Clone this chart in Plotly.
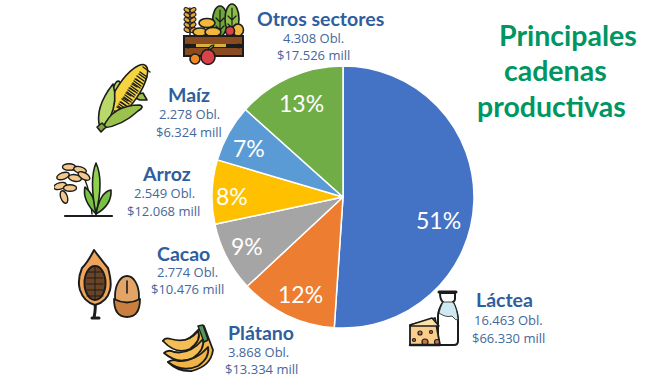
import base64
import plotly.graph_objects as go

W, H = 666, 385

# ---- data ----
sectors = ["Láctea", "Plátano", "Cacao", "Arroz", "Maíz", "Otros sectores"]
obligations = [16463, 3868, 2774, 2549, 2278, 4308]
obligation_labels = ["16.463 Obl.", "3.868 Obl.", "2.774 Obl.", "2.549 Obl.", "2.278 Obl.", "4.308 Obl."]
amount_labels = ["$66.330 mill", "$13.334 mill", "$10.476 mill", "$12.068 mill", "$6.324 mill", "$17.526 mill"]
title_lines = ["Principales", "cadenas", "productivas"]
slice_colors = ["#4472C4", "#ED7D31", "#A5A5A5", "#FFC000", "#5B9BD5", "#70AD47"]

# ---- layout helpers (pixels of the 666x385 frame) ----
def px(x):
    return x / W

def py(y):
    return 1 - y / H

CX, CY, R = 343, 197, 131

fig = go.Figure(go.Pie(
    labels=sectors,
    values=obligations,
    sort=False,
    direction="clockwise",
    rotation=0,
    marker=dict(colors=slice_colors, line=dict(color="white", width=1.5)),
    textinfo="none",
    domain=dict(x=[px(CX - R), px(CX + R)], y=[py(CY + R), py(CY - R)]),
    hoverinfo="label+value+percent",
    showlegend=False,
))

HEAD = "#2F5E9E"
SUB = "#44689C"
label_places = {
    "Láctea": ((505, 299), (508, 320), (508, 338)),
    "Plátano": ((261, 332), (258, 352), (261, 369)),
    "Cacao": ((183, 253), (187, 272), (187, 289)),
    "Arroz": ((166, 174), (164, 193), (163, 211)),
    "Maíz": ((189, 95), (189, 114), (189, 132)),
    "Otros sectores": ((320, 18), (313, 38), (313, 55)),
}
percent_places = {
    "Láctea": (438, 220),
    "Plátano": (300, 294),
    "Cacao": (247, 246),
    "Arroz": (232, 196),
    "Maíz": (249, 148),
    "Otros sectores": (301, 103),
}
annotations = []

def add_text(text, x, y, size, color, family, bold=False):
    annotations.append(dict(
        text=f"<b>{text}</b>" if bold else text,
        x=px(x), y=py(y), xref="paper", yref="paper",
        xanchor="center", yanchor="middle", showarrow=False,
        font=dict(family=family, size=size, color=color),
    ))

total = sum(obligations)
for name, val, obl, amt in zip(sectors, obligations, obligation_labels, amount_labels):
    a, b, c = label_places[name]
    add_text(name, a[0], a[1], 19.5, HEAD, "Lato, sans-serif", True)
    add_text(obl, b[0], b[1], 13, SUB, "Open Sans, sans-serif")
    add_text(amt, c[0], c[1], 13, SUB, "Open Sans, sans-serif")
    pp = percent_places[name]
    add_text(f"{round(100 * val / total)}%", pp[0], pp[1], 23, "white", "Lato, sans-serif")

for line, (x, y) in zip(title_lines, [(568, 35), (555, 70), (551, 106)]):
    add_text(line, x, y, 28.5, "#009664", "Lato, sans-serif", True)

# ---- decorative icons, written in frame pixels ----
K = "#1c1c1c"

def ell(cx, cy, rx, ry, fill, rot=0, sw=1.6):
    return (f'<ellipse cx="{cx}" cy="{cy}" rx="{rx}" ry="{ry}" fill="{fill}" stroke="{K}" '
            f'stroke-width="{sw}" transform="rotate({rot} {cx} {cy})"/>')

def path(d, fill="none", sw=1.6):
    return f'<path d="{d}" fill="{fill}" stroke="{K}" stroke-width="{sw}" stroke-linejoin="round" stroke-linecap="round"/>'

def rect(x, y, w, h, fill, sw=1.6):
    return f'<rect x="{x}" y="{y}" width="{w}" height="{h}" fill="{fill}" stroke="{K}" stroke-width="{sw}"/>'

# crate
crate = ""
crate += ell(220, 21, 7.5, 15, "#6FA63A") + ell(232, 19, 7, 15, "#8CBF4A")
crate += path("M220 10V35M216 18l4 4 4-4M216 26l4 4 4-4M232 8V34M228 16l4 4 4-4M228 24l4 4 4-4", sw=1.2)
crate += path("M190 35V8", sw=1.5)
for yy in (10, 15, 20, 25, 30):
    crate += ell(187, yy, 3.2, 2, "#E8A63A", 30, 1) + ell(193, yy, 3.2, 2, "#E8A63A", -30, 1)
crate += ell(207, 23, 8, 4.5, "#F2B83C") + ell(200, 32, 7, 4, "#F2B83C") + ell(213, 32, 8, 4.5, "#F2B83C")
crate += ell(238, 30, 5.5, 6, "#F2B83C") + ell(230, 31, 4.5, 4.5, "#D8434A")
crate += rect(184, 36, 59, 9, "#8A4B20", 2) + rect(184, 47, 59, 9, "#8A4B20", 2)
crate += path("M188 45V47M239 45V47", sw=3)
crate += '<rect x="196" y="44" width="30" height="3" fill="#D8B040"/>'
crate += ell(195, 59, 5, 5, "#F08A24") + ell(208, 57, 7, 7.5, "#D8434A")
crate += path("M208 50q2-5 6-5q-1 4-6 5", "#6FA63A", 1.2)

# maize
maize = ""
maize += path("M112 92Q116 78 120 82L124 100Z", "#B8D86A")
maize += path("M140 100L147 100L143 93L130 96Z", "#9CC24E")
maize += ell(128, 91, 31, 11, "#F5D440", -56)
for i in range(9):
    t = i / 8
    x0 = 115 + 24 * t
    y0 = 111 - 37 * t
    maize += path(f"M{x0:.0f} {y0:.0f}l7 5M{x0 + 4:.0f} {y0 - 7:.0f}l7 5M{x0 - 4:.0f} {y0 + 7 - 2:.0f}l5 3", sw=1.4)
maize += path("M100 128Q94 108 113 84Q118 100 110 118Q105 125 100 128Z", "#B8D86A")
maize += path("M103 128Q112 105 140 105Q145 107 138 111Q122 126 103 128Z", "#9CC24E")
maize += path("M97 127L102 123L106 127L101 132Z", "#7FA83A")

# rice
rice = ""
rice += path("M65 216H112", sw=2.2)
rice += path("M72 170Q88 168 92 214", sw=1.4)
for cx, cy, rot in [(69, 167, 0), (80, 170, 15), (63, 176, -20), (75, 178, 10), (60, 186, -15),
                    (70, 188, 0), (64, 197, 70), (84, 176, 30)]:
    rice += ell(cx, cy, 6.5, 3.3, "#F3C98B", rot, 1.4)
rice += path("M96 214Q82 200 85 187Q96 196 96 214Z", "#78C143")
rice += path("M96 214Q89 180 96 163Q104 180 96 214Z", "#8FD14F")
rice += path("M96 214Q100 192 111 190Q112 205 96 214Z", "#78C143")

# cacao
cacao = ""
cacao += path("M94 318Q96 308 95 300M92 318H99", sw=3)
cacao += path("M94 250Q103 262 108 268Q112 282 110 290Q107 302 95 305Q84 302 80 290Q77 280 82 268Q88 262 94 250Z", "#EFA45B", 2)
cacao += ell(95, 283, 10.5, 17, "#6A4424", 0, 2)
for yy in (272, 278, 284, 290, 296):
    cacao += path(f"M87 {yy}H103", sw=1)
cacao += path("M95 266V300", sw=1)
cacao += ell(127, 296, 12, 20, "#E3A468", 0, 1.8)
cacao += path("M114 299Q127 306 140 299Q140 317 127 317Q114 317 114 299Z", "#C97F3F", 1.8)
cacao += path("M127 281V293", sw=1.6)

# banana
banana = ""
banana += path("M163 341Q182 349 198 330L204 326L213 350Q211 366 192 371Q178 372 168 362Q180 362 200 346", "#F0B84A", 1.8)
banana += path("M163 341Q165 337 171 339Q188 344 198 331Q202 340 190 349Q176 355 163 341Z", "#F2BE55", 1.8)
banana += path("M164 353Q168 349 174 352Q190 355 203 339Q205 350 193 358Q178 365 164 353Z", "#F2BE55", 1.8)
banana += path("M168 362Q172 359 178 361Q195 362 208 347Q210 358 198 366Q182 373 168 362Z", "#EFB445", 1.8)
banana += path("M198 326L203 325L208 340L204 342Z", "#4F9A5A", 1.4)

# milk and cheese
milk = ""
milk += path("M440 293H455V299Q455 301 453 302Q458 312 458 320V341Q458 345 454 345H438V316Q438 310 443 302Q440 300 440 293Z", "#FFFFFF", 2)
milk += path("M439 313Q446 318 452 316Q456 321 458 320Q457 308 453 302H443Q440 308 439 313Z", "#CFE9F3", 0.8)
milk += path("M439 292H456", sw=3)
milk += path("M410 325L435 318L440 345H410Z", "#F8CE8A", 1.8)
milk += path("M410 325L432 318L439 326H410Z", "#FBE0A8", 1.5)
for cx, cy, r in [(420, 333, 2), (431, 332, 1.5), (425, 342, 3), (437, 342, 2.5), (414, 340, 1.5)]:
    milk += ell(cx, cy, r, r, "#C4744A", 0, 1.2)
milk += path("M410 345H440", sw=2.4)

def icon(body, x0, y0, w, h):
    svg = (f'<svg xmlns="http://www.w3.org/2000/svg" width="{w * 2}" height="{h * 2}" '
           f'viewBox="{x0} {y0} {w} {h}">{body}</svg>')
    uri = "data:image/svg+xml;base64," + base64.b64encode(svg.encode()).decode()
    return dict(source=uri, xref="paper", yref="paper", x=px(x0), y=py(y0),
                sizex=w / W, sizey=h / H, xanchor="left", yanchor="top",
                sizing="stretch", layer="above")

images = [
    icon(crate, 180, 3, 68, 65),
    icon(maize, 92, 62, 60, 74),
    icon(rice, 54, 158, 62, 62),
    icon(cacao, 74, 246, 72, 75),
    icon(banana, 160, 322, 56, 54),
    icon(milk, 406, 289, 56, 60),
]

fig.update_layout(
    width=W, height=H,
    margin=dict(l=0, r=0, t=0, b=0),
    paper_bgcolor="white",
    annotations=annotations,
    images=images,
    showlegend=False,
)
fig.write_html("out.html", config={"displayModeBar": False},
               post_script="document.body.style.margin='0';")
